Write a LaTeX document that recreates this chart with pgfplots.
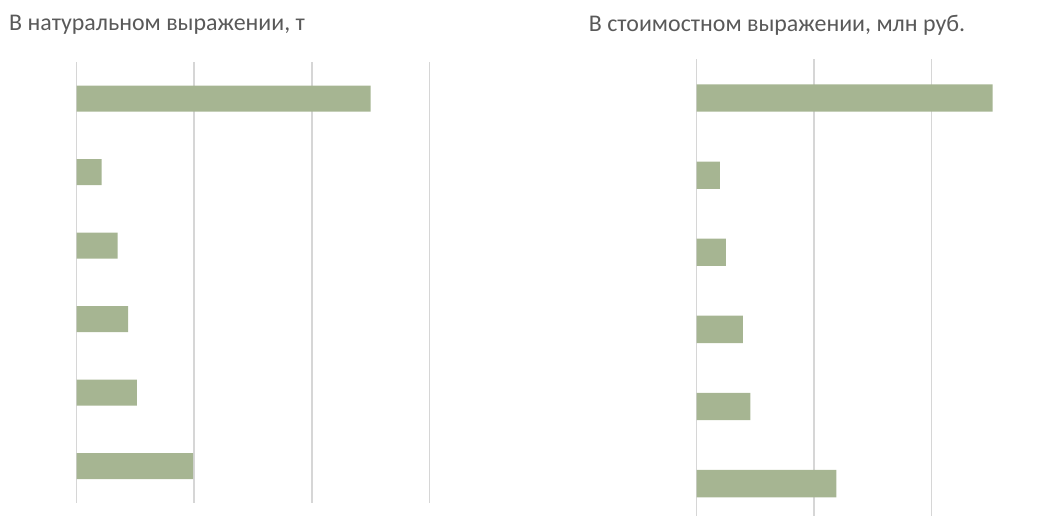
\documentclass[border=0pt]{standalone}
\usepackage{fontspec}
\setmainfont{Carlito}
\usepackage{pgfplots}
\pgfplotsset{compat=1.18}
\definecolor{barcol}{RGB}{166,181,146}
\definecolor{gridcol}{RGB}{214,214,214}
\definecolor{titlecol}{RGB}{89,89,89}
\pgfplotsset{
  panel/.style={
    scale only axis,
    xbar,
    xmin=0,
    xtick={0,1,2,3},
    xticklabels={},
    ytick=\empty,
    xmajorgrids=true,
    major grid style={gridcol, line width=1.5bp},
    axis line style={draw=none},
    tick style={draw=none},
    anchor=south west,
  },
}
\begin{document}
\begin{tikzpicture}[x=1bp,y=1bp]
\useasboundingbox (0,0) rectangle (1042,516);
\clip (0,0) rectangle (1042,516);
% left panel: in natural terms, t
\begin{axis}[panel,
  at={(76.7bp,13bp)},
  width=352.6bp, height=441bp,
  xmax=3, ymin=-0.5, ymax=5.5,
  bar width=26bp]
\addplot[fill=barcol, draw=none] coordinates {
  (0.99,0) (0.513,1) (0.437,2) (0.349,3) (0.213,4) (2.50,5)
};
\end{axis}
% right panel: in value terms, mln rub
\begin{axis}[panel,
  at={(696.7bp,0bp)},
  width=345.3bp, height=456.5bp,
  xmax=2.94, ymin=-0.42, ymax=5.5,
  bar width=27.3bp]
\addplot[fill=barcol, draw=none] coordinates {
  (1.19,0) (0.456,1) (0.394,2) (0.249,3) (0.198,4) (2.52,5)
};
\end{axis}
\node[anchor=west, text=titlecol, font=\fontsize{24}{28}\selectfont, inner sep=0pt] at (9,491) {В натуральном выражении, т};
\node[text=titlecol, font=\fontsize{24}{28}\selectfont, inner sep=0pt] at (777,491) {В стоимостном выражении, млн руб.};
\end{tikzpicture}
\end{document}
